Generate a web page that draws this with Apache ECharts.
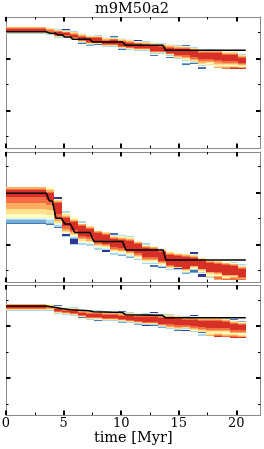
<!DOCTYPE html>
<html><head><meta charset="utf-8">
<script src="https://cdn.jsdelivr.net/npm/echarts@6/dist/echarts.min.js"></script>
<style>html,body{margin:0;padding:0;background:#fff}#c{width:264px;height:449px}</style>
</head><body><div id="c"></div>
<script>
// ---------- data ----------
const chartTitle = 'm9M50a2';
const xName = 'time [Myr]';
const xTicksMajor = [0, 5, 10, 15, 20];
const xTicksMinor = [2.5, 7.5, 12.5, 17.5];
const yTicksMajor = [26, 78];
const yTicksMinor = [0, 52, 104];
// time bin edges (Myr)
const timeBins = [0, 0.694, 1.388, 2.082, 2.776, 3.47, 4.164, 4.858, 5.552, 6.246, 6.94,
  7.634, 8.328, 9.022, 9.716, 10.41, 11.104, 11.798, 12.492, 13.186, 13.88,
  14.574, 15.268, 15.962, 16.656, 17.35, 18.044, 18.738, 19.432, 20.126, 20.82];
// RdYlBu colour classes (0 = dark red ... a = dark blue)
const palette = ['#a50026','#d73027','#f46d43','#fdae61','#fee090','#ffffbf','#e0f3f8','#abd9e9','#74add1','#4575b4','#313695'];

// each column: [top value, colour class per unit row from top ('.' = empty)]
const panel1Columns = [
  [109.5, "3211247"], [109.5, "3211247"], [109.5, "3211247"], [109.5, "3211247"], [109.5, "3211247"],
  [109, "4322347"], [108, "742111247"], [107.4, "a74211247"], [105.4, "743211247"],
  [104, "64321112479"], [102, "64211112478"], [101.4, "7421111249"], [100, "6432111247"],
  [100.7, "97421111247"], [98.7, "643211112479"], [98, "64321111247"], [96.7, "a6421111247"],
  [95.4, "7432111247"], [94.7, "643211111247.9"], [93.4, "74321111247"], [92.7, "643211111247.9"],
  [91.4, "74321111112347"], [91.4, "963211111122345" + "7..89"], [89.4, "74321111112234479"],
  [88, "6432111111223345" + "7.99"], [87.4, "7432111111223454"], [87.4, "6432111111122334543"],
  [86.7, "9643211111122345432"], [86.7, "8643211111122345421"], [82.7, "743211111234531"]
];
const panel2Block = "33" + "21111111" + "222222" + "33333" + "34444" + "4555" + "56" + "7" + "8889";
const panel2Columns = [
  [83, panel2Block], [83, panel2Block], [83, panel2Block], [83, panel2Block], [83, panel2Block],
  [83, "55" + "433" + "21111111" + "22222" + "33333" + "44444" + "555" + "66" + "777" + "89"],
  [73.5, "aa" + "5432" + "11111111111" + "2222" + "333" + "44" + "56" + "779"],
  [59.5, "77" + "5443" + "2" + "11111111" + "222" + "33" + "456" + "aa" + "7"],
  [53.5, "55" + "432" + "11111111" + "22" + "33" + "45678" + "aaaaa" + "7"],
  [49.5, "77" + "532" + "1111111111" + "22" + "3" + "44" + "56" + "77"],
  [44, "432" + "11111111" + "22" + "33" + "4567" + "7"],
  [40, "532" + "111111111" + "22" + "3456" + "77"],
  [38, "432" + "111111111" + "2" + "34567" + "aa"],
  [37, "99" + "6432" + "11111111" + "22" + "3456" + "77"],
  [35, "75432" + "11111111" + "22" + "345678"],
  [34, "75432" + "1111111111" + "2" + "345678"],
  [29, "532" + "111111111" + "22" + "34567"],
  [27.6, "77" + "532" + "111111111" + "22" + "34567"],
  [24, "532" + "11111111" + "22" + "34567" + "." + "99"],
  [22, "6432" + "111111111" + "2" + "345679"],
  [19, "5432" + "1111111111" + "2" + "3467"],
  [17, "532" + "11111111111" + "4a7"],
  [16, "432" + "111111111111" + "34578"],
  [18, "aa" + "6432" + "11111111" + "3457" + "99" + "8"],
  [12, "432" + "11111111" + "3457" + "." + "aaa"],
  [10, "532" + "111111111" + "345547"],
  [9, "432" + "11111111" + "23453223"],
  [8, "532" + "1111111111" + "34532"],
  [8.3, "7532" + "111111111" + "34322"],
  [6, "76432" + "11111111" + "232"]
];
const panel3Columns = [
  [100.3, "3211247"], [100.3, "3211247"], [100.3, "3211247"], [100.3, "3211247"], [100.3, "3211247"],
  [100, "5432347"], [99.5, "964211247"], [97.5, "64321247"], [96.7, "743211247"],
  [95.5, "643211249"], [94.5, "7432111247"], [94.5, "75321112469"], [93.5, "7432111247"],
  [93, "6432111247"], [93.3, "964321112478"], [92.3, "74321111247"], [91.5, "643211112478"],
  [91, "743211111247a"], [91.7, "a6432111112479"], [90, "74321111112478"], [89.7, "743211111122347"],
  [89, "6432111111223479"], [88.5, "7432111112247.a"], [88.7, "a6432111111223457"],
  [87.5, "6432111111223449.77"], [86.5, "432111111122345443"], [86, "4321111111223454321"],
  [86, "7432111111223455432"], [85.5, "9643211111122354321"], [83, "85321111122355431"]
];
// black median tracks
const line1T = [0, 3.45, 3.85, 4.3, 4.5, 4.9, 5.1, 5.6, 5.8, 7.3, 7.5, 10.1, 10.4, 13.63, 13.85, 20.82];
const line1V = [105, 105, 103.5, 103.5, 101.8, 101.8, 99.7, 99.7, 97.4, 97.4, 94.7, 94.7, 91.4, 91.4, 86.4, 86.4];
const line2T = [0, 3.5, 3.77, 4.03, 4.34, 4.81, 5.12, 5.59, 5.98, 7.29, 7.63, 10.12, 10.41, 13.64, 13.88, 20.82];
const line2V = [77, 77, 69.3, 69.3, 52, 52, 46.3, 46.3, 37.8, 37.8, 28.8, 28.8, 20.3, 20.3, 10.3, 10.3];
const line3T = [0, 3.5, 4.2, 4.8, 5.6, 7.2, 7.6, 10.1, 10.4, 13.6, 13.85, 20.82];
const line3V = [98, 98, 96.8, 95.5, 94.3, 93.3, 92.3, 91.5, 89.3, 88.6, 86.2, 86.2];

// panel y ranges
const yRanges = [[-11.3, 119.7], [-11.7, 118.3], [-11, 119]];
const xMax = 22.1;

// ---------- build ----------
function cellsOf(columns) {
  const out = [];
  columns.forEach((col, j) => {
    const top = col[0], s = col[1];
    for (let k = 0; k < s.length; k++) {
      const ch = s[k];
      if (ch === '.') continue;
      out.push([timeBins[j], timeBins[j + 1], top - k, top - k - 1, parseInt(ch, 16)]);
    }
  });
  return out;
}
const panels = [
  { cols: panel1Columns, lt: line1T, lv: line1V },
  { cols: panel2Columns, lt: line2T, lv: line2V },
  { cols: panel3Columns, lt: line3T, lv: line3V }
];
const gridBoxes = [{ top: 17, height: 131 }, { top: 152, height: 130 }, { top: 285, height: 130 }];
const serif = 'DejaVu Serif';
const frameColor = '#8a8a8a';

const grids = [], xAxes = [], yAxes = [], series = [];
gridBoxes.forEach((b, g) => {
  grids.push({ left: 6, width: 254.5, top: b.top, height: b.height, containLabel: false, outerBoundsMode: 'none' });
  const last = g === 2;
  const mkX = (pos, ticks, major) => ({
    type: 'value', gridIndex: g, min: 0, max: xMax, position: pos,
    axisLine: { show: major, onZero: false, lineStyle: { color: frameColor, width: 1 } },
    axisTick: { show: true, inside: true, customValues: ticks, length: major ? 4.5 : 2.5,
      lineStyle: { color: '#000', width: major ? 2 : 1 } },
    axisLabel: (last && pos === 'bottom' && major) ?
      { show: true, customValues: xTicksMajor, margin: 2, fontFamily: serif, fontSize: 13, color: '#000' } : { show: false },
    name: (last && pos === 'bottom' && major) ? xName : '',
    nameLocation: 'middle', nameGap: 15,
    nameTextStyle: { fontFamily: serif, fontSize: 14.5, color: '#000' },
    splitLine: { show: false }
  });
  xAxes.push(mkX('bottom', xTicksMajor, true), mkX('bottom', xTicksMinor, false),
             mkX('top', xTicksMajor, true), mkX('top', xTicksMinor, false));
  const mkY = (pos, ticks, major) => ({
    type: 'value', gridIndex: g, min: yRanges[g][0], max: yRanges[g][1], position: pos,
    axisLine: { show: major, onZero: false, lineStyle: { color: frameColor, width: 1 } },
    axisTick: { show: true, inside: true, customValues: ticks, length: major ? 4.5 : 2.5,
      lineStyle: { color: '#000', width: major ? 2 : 1 } },
    axisLabel: { show: false }, splitLine: { show: false }
  });
  yAxes.push(mkY('left', yTicksMajor, true), mkY('left', yTicksMinor, false),
             mkY('right', yTicksMajor, true), mkY('right', yTicksMinor, false));

  const p = panels[g];
  series.push({
    type: 'custom', xAxisIndex: g * 4, yAxisIndex: g * 4, silent: true,
    encode: { x: [0, 1], y: [2, 3] },
    data: cellsOf(p.cols),
    renderItem: (params, api) => {
      const a = api.coord([api.value(0), api.value(2)]);
      const c = api.coord([api.value(1), api.value(3)]);
      const x0 = Math.round(a[0]), x1 = Math.round(c[0]);
      const y0 = Math.round(a[1]), y1 = Math.round(c[1]);
      return { type: 'rect', shape: { x: x0, y: y0, width: x1 - x0, height: y1 - y0 },
        style: { fill: palette[api.value(4)] } };
    },
    z: 2
  });
  series.push({
    type: 'line', xAxisIndex: g * 4, yAxisIndex: g * 4, silent: true,
    data: p.lt.map((t, i) => [t, p.lv[i]]),
    showSymbol: false, symbol: 'none',
    lineStyle: { color: '#000', width: 1.6 }, z: 5
  });
});

const chart = echarts.init(document.getElementById('c'), null, { renderer: 'canvas' });
chart.setOption({
  animation: false,
  backgroundColor: '#fff',
  title: { text: chartTitle, left: 'center', top: 2, padding: 0,
    textStyle: { fontFamily: serif, fontSize: 14.5, fontWeight: 'normal', color: '#000' } },
  grid: grids, xAxis: xAxes, yAxis: yAxes, series: series
});
</script></body></html>
